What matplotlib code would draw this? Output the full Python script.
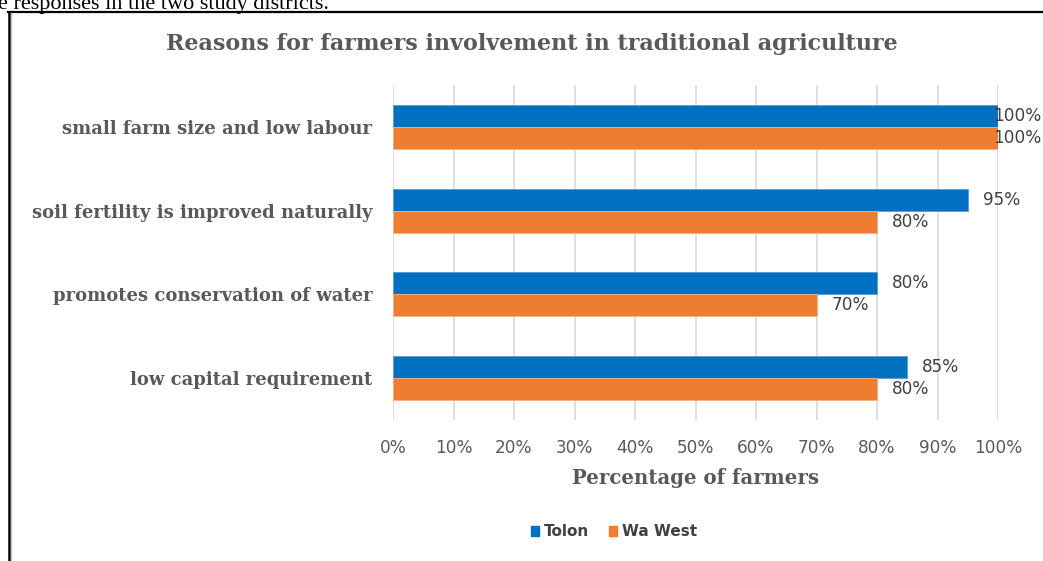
import matplotlib
matplotlib.use("Agg")
import matplotlib.pyplot as plt
from matplotlib.lines import Line2D
from matplotlib.patches import Patch
import numpy as np

categories = ["small farm size and low labour",
              "soil fertility is improved naturally",
              "promotes conservation of water",
              "low capital requirement"]
tolon = [100, 95, 80, 85]
wa_west = [100, 80, 70, 80]
series_names = ["Tolon", "Wa West"]
xticks = [0, 10, 20, 30, 40, 50, 60, 70, 80, 90, 100]
title = "Reasons for farmers involvement in traditional agriculture"
xlabel = "Percentage of farmers"
caption = "e responses in the two study districts."

BLUE = "#0070C0"
ORANGE = "#ED7D31"
GRAY = "#595959"
DARK = "#404040"
W, H = 1043, 561
SERIF = "DejaVu Serif"
SANS = "DejaVu Sans"

fig = plt.figure(figsize=(W / 100, H / 100), dpi=100)
ax = fig.add_axes([393 / W, 1 - 420 / H, (998 - 393) / W, (420 - 85) / H])

y = np.arange(len(categories))
bh = 0.262
ax.barh(y - bh / 2, tolon, height=bh, color=BLUE, edgecolor="#5B9BD5", linewidth=0.6, zorder=3)
ax.barh(y + bh / 2, wa_west, height=bh, color=ORANGE, edgecolor="#F4B183", linewidth=0.6, zorder=3)
ax.set_ylim(len(categories) - 0.5, -0.5)
ax.set_xlim(0, 100)
ax.set_xticks(xticks)
ax.set_xticklabels([f"{t}%" for t in xticks], fontsize=12.2, color=GRAY, family=SANS)
ax.set_yticks(y)
ax.set_yticklabels(categories, fontsize=13, color=GRAY, family=SERIF, fontweight="bold")
ax.tick_params(axis="both", length=0)
ax.tick_params(axis="x", pad=14)
ax.tick_params(axis="y", pad=15)
ax.grid(axis="x", color="#D9D9D9", linewidth=1.2, zorder=0)
for s in ax.spines.values():
    s.set_visible(False)

for vals, off in ((tolon, -bh / 2), (wa_west, bh / 2)):
    for i, v in enumerate(vals):
        dx = -5 if v >= 100 else 15
        ax.annotate(f"{v}%", xy=(v, i + off), xytext=(dx, 0), textcoords="offset pixels",
                    ha="left", va="center", fontsize=12.2, color=DARK, family=SANS,
                    zorder=4, annotation_clip=False)

fig.text(532 / W, 1 - 44 / H, title, ha="center", va="center", fontsize=16,
         family=SERIF, fontweight="bold", color=GRAY)
fig.text(696 / W, 1 - 478 / H, xlabel, ha="center", va="center", fontsize=14.2,
         family=SERIF, fontweight="bold", color=GRAY)

handles = [Patch(facecolor=BLUE, edgecolor=BLUE), Patch(facecolor=ORANGE, edgecolor=ORANGE)]
leg = fig.legend(handles, series_names, loc="center", bbox_to_anchor=(614 / W, 1 - 532 / H),
                 ncol=2, frameon=False, handlelength=0.55, handleheight=0.55, handletextpad=0.3,
                 columnspacing=1.3, prop={"family": SANS, "size": 11, "weight": "bold"})
for t in leg.get_texts():
    t.set_color(DARK)

fig.text(-2 / W, 1 - 9 / H, caption, ha="left", va="baseline", fontsize=16,
         family="Liberation Serif", color="black")
fig.add_artist(Line2D([8 / W, 1], [1 - 12 / H, 1 - 12 / H], color="black", linewidth=1.6,
                      transform=fig.transFigure))
fig.add_artist(Line2D([8.5 / W, 8.5 / W], [0, 1 - 12 / H], color="black", linewidth=1.8,
                      transform=fig.transFigure))
fig.add_artist(Line2D([10.5 / W, 10.5 / W], [0, 1 - 13 / H], color="#BFBFBF", linewidth=1.0,
                      transform=fig.transFigure))

fig.savefig("out.png", dpi=100)
